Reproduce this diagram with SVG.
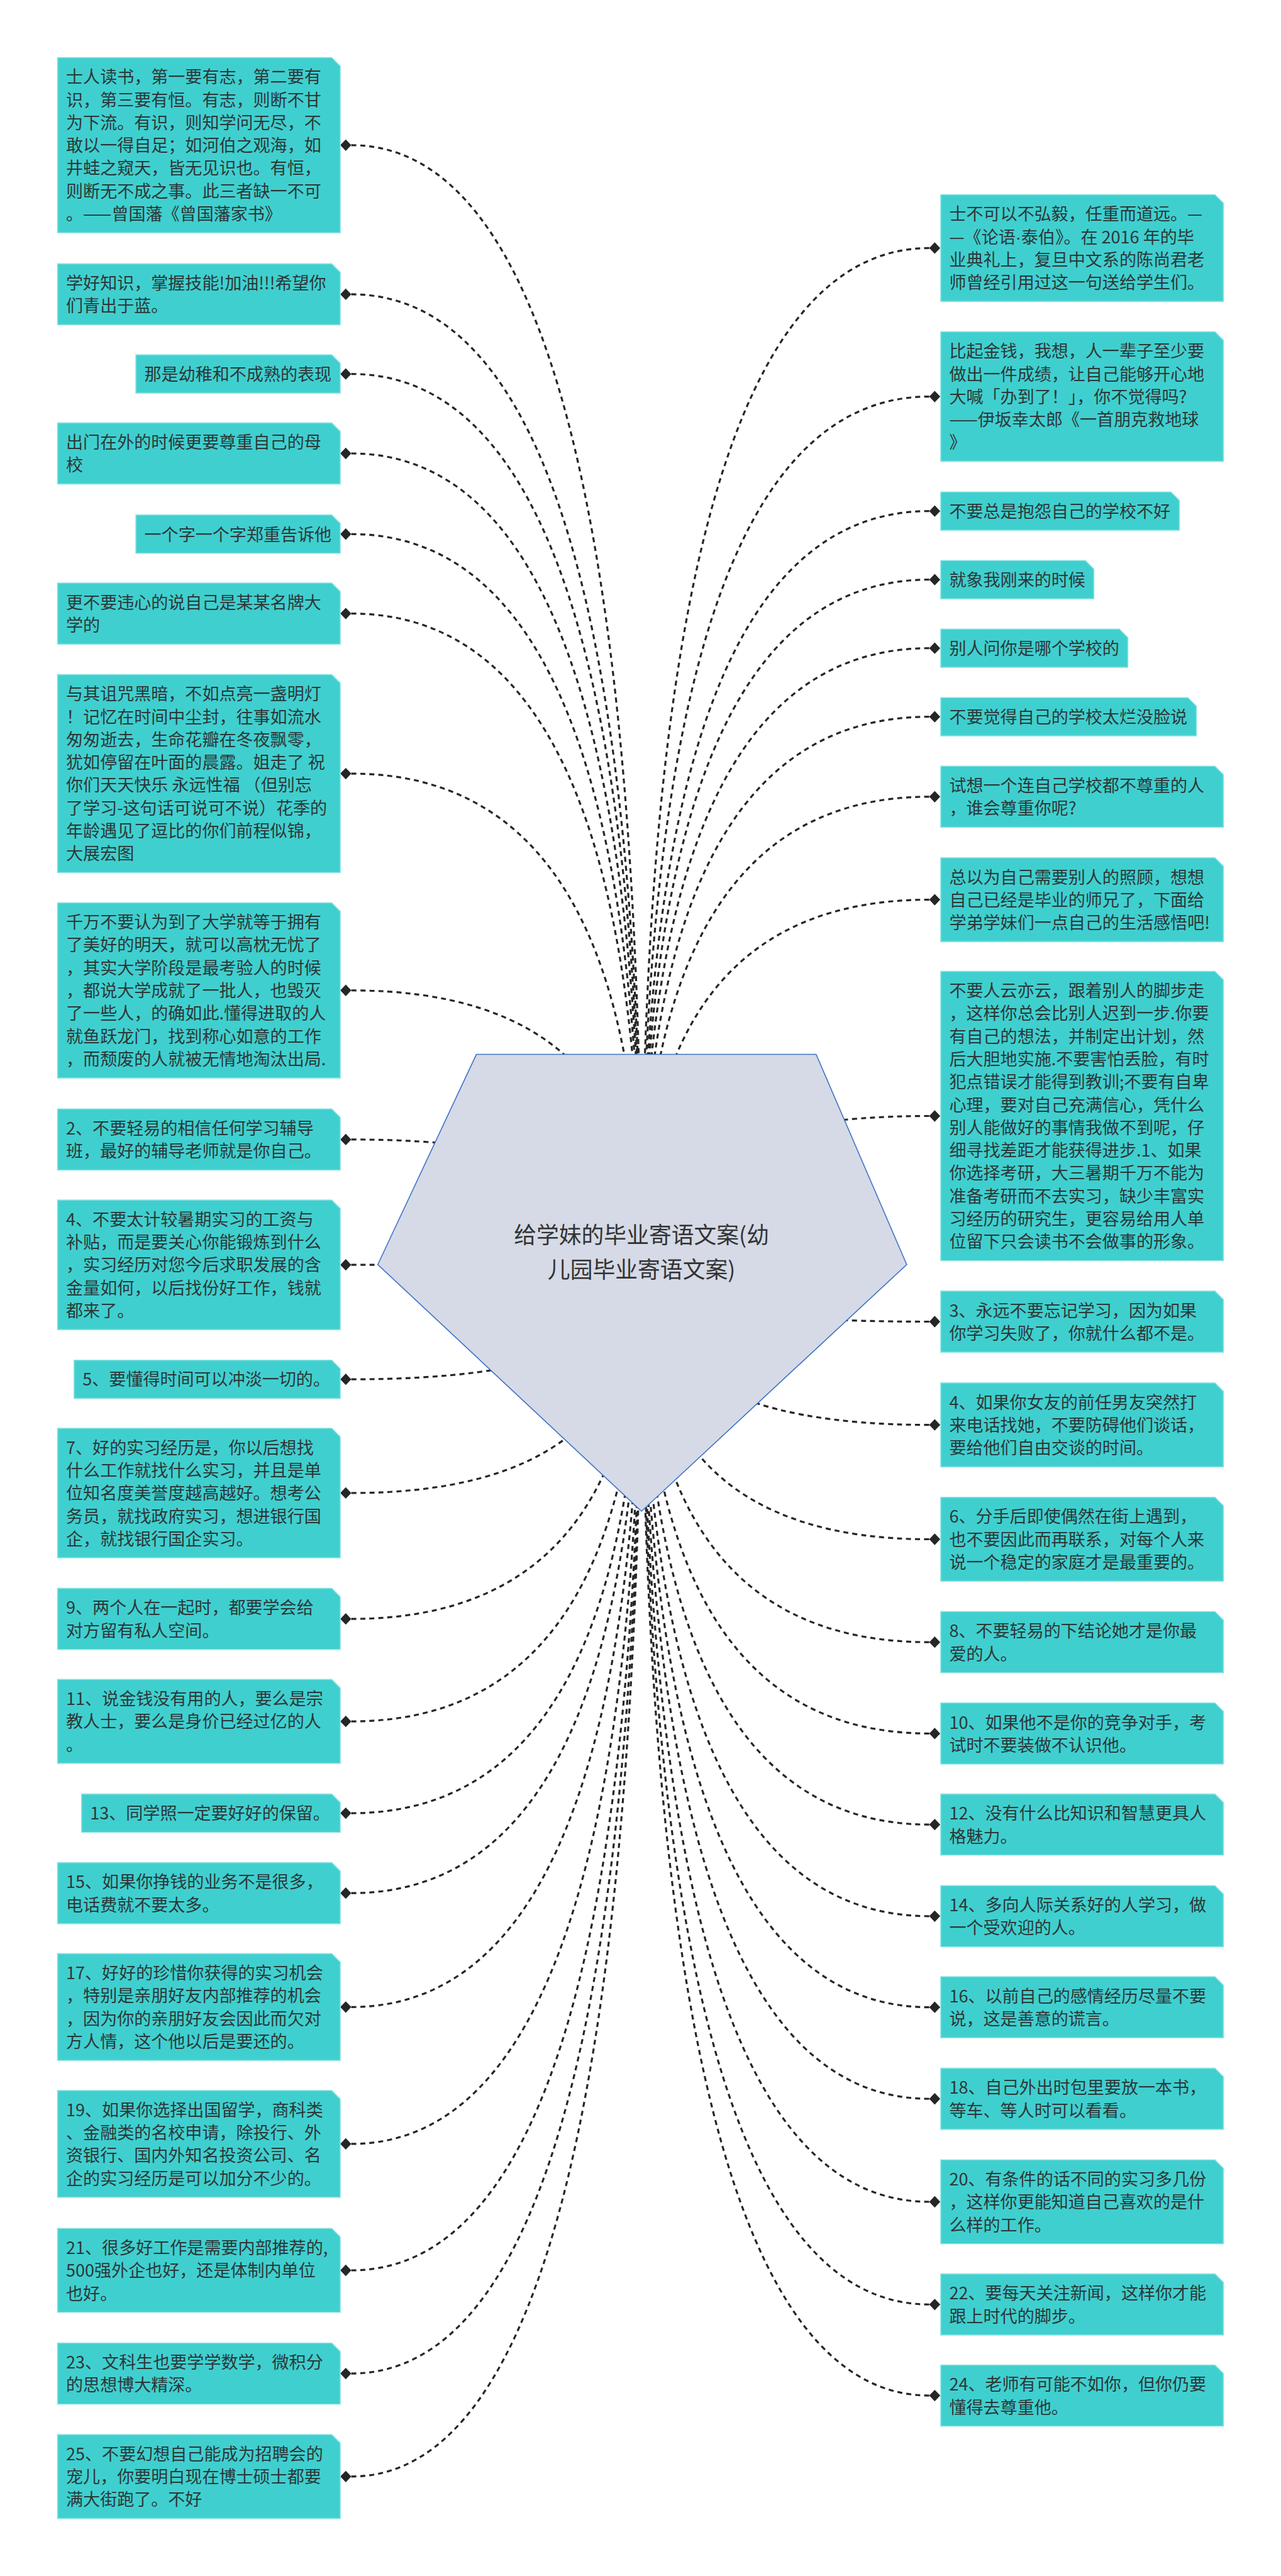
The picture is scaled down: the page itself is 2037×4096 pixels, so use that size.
<svg xmlns="http://www.w3.org/2000/svg" xmlns:xlink="http://www.w3.org/1999/xlink" width="2037" height="4096" viewBox="0 0 2037 4096">
<defs>
<style>
.box{fill:#40cfcf;stroke:#8fe3e3;stroke-width:2}
.t{font-family:"Noto Sans CJK SC","Noto Sans",sans-serif;font-size:34px;fill:#2b3838}
.ct{font-family:"Noto Sans CJK SC","Noto Sans",sans-serif;font-size:45px;fill:#333333;text-anchor:middle}
.conn path{fill:none;stroke:#262626;stroke-width:4;stroke-dasharray:10 8}
.dia{fill:#262626}
.lat{font-family:"Liberation Sans",sans-serif}
</style>
<path id="dm" class="dia" d="M-11,0 L0,-11.5 L11,0 L0,11.5 Z"/>
</defs>
<rect width="2037" height="4096" fill="#ffffff"/>
<g transform="scale(0.7957)">
<g id="connectors" class="conn">
<path d="M702,290.1 Q1282,290.1 1282,2527"/>
<path d="M702,588.1 Q1282,588.1 1282,2527"/>
<path d="M702,747.3 Q1282,747.3 1282,2527"/>
<path d="M702,906.1 Q1282,906.1 1282,2527"/>
<path d="M702,1067.3 Q1282,1067.3 1282,2527"/>
<path d="M702,1226.1 Q1282,1226.1 1282,2527"/>
<path d="M702,1545.9 Q1282,1545.9 1282,2527"/>
<path d="M702,1979.1 Q1282,1979.1 1282,2527"/>
<path d="M702,2277.1 Q1282,2277.1 1282,2527"/>
<path d="M702,2527.5 Q1282,2527.5 1282,2527"/>
<path d="M702,2756.3 Q1282,2756.3 1282,2527"/>
<path d="M702,2983.5 Q1282,2983.5 1282,2527"/>
<path d="M702,3235.1 Q1282,3235.1 1282,2527"/>
<path d="M702,3439.9 Q1282,3439.9 1282,2527"/>
<path d="M702,3623.3 Q1282,3623.3 1282,2527"/>
<path d="M702,3783.1 Q1282,3783.1 1282,2527"/>
<path d="M702,4010.7 Q1282,4010.7 1282,2527"/>
<path d="M702,4284.2 Q1282,4284.2 1282,2527"/>
<path d="M702,4536.9 Q1282,4536.9 1282,2527"/>
<path d="M702,4743.1 Q1282,4743.1 1282,2527"/>
<path d="M702,4948.9 Q1282,4948.9 1282,2527"/>
<path d="M1857,495.7 Q1282,495.7 1282,2527"/>
<path d="M1857,792.5 Q1282,792.5 1282,2527"/>
<path d="M1857,1021.3 Q1282,1021.3 1282,2527"/>
<path d="M1857,1158.3 Q1282,1158.3 1282,2527"/>
<path d="M1857,1295.3 Q1282,1295.3 1282,2527"/>
<path d="M1857,1432.3 Q1282,1432.3 1282,2527"/>
<path d="M1857,1592.1 Q1282,1592.1 1282,2527"/>
<path d="M1857,1797.9 Q1282,1797.9 1282,2527"/>
<path d="M1857,2230.1 Q1282,2230.1 1282,2527"/>
<path d="M1857,2641.1 Q1282,2641.1 1282,2527"/>
<path d="M1857,2847.4 Q1282,2847.4 1282,2527"/>
<path d="M1857,3075.9 Q1282,3075.9 1282,2527"/>
<path d="M1857,3281.6 Q1282,3281.6 1282,2527"/>
<path d="M1857,3464.1 Q1282,3464.1 1282,2527"/>
<path d="M1857,3646.1 Q1282,3646.1 1282,2527"/>
<path d="M1857,3829.1 Q1282,3829.1 1282,2527"/>
<path d="M1857,4011.1 Q1282,4011.1 1282,2527"/>
<path d="M1857,4194.1 Q1282,4194.1 1282,2527"/>
<path d="M1857,4399.9 Q1282,4399.9 1282,2527"/>
<path d="M1857,4605.1 Q1282,4605.1 1282,2527"/>
<path d="M1857,4787.1 Q1282,4787.1 1282,2527"/>
<use href="#dm" x="691" y="290.1"/><use href="#dm" x="691" y="588.1"/><use href="#dm" x="691" y="747.3"/><use href="#dm" x="691" y="906.1"/><use href="#dm" x="691" y="1067.3"/><use href="#dm" x="691" y="1226.1"/><use href="#dm" x="691" y="1545.9"/><use href="#dm" x="691" y="1979.1"/><use href="#dm" x="691" y="2277.1"/><use href="#dm" x="691" y="2527.5"/><use href="#dm" x="691" y="2756.3"/><use href="#dm" x="691" y="2983.5"/><use href="#dm" x="691" y="3235.1"/><use href="#dm" x="691" y="3439.9"/><use href="#dm" x="691" y="3623.3"/><use href="#dm" x="691" y="3783.1"/><use href="#dm" x="691" y="4010.7"/><use href="#dm" x="691" y="4284.2"/><use href="#dm" x="691" y="4536.9"/><use href="#dm" x="691" y="4743.1"/><use href="#dm" x="691" y="4948.9"/>
<use href="#dm" x="1868" y="495.7"/><use href="#dm" x="1868" y="792.5"/><use href="#dm" x="1868" y="1021.3"/><use href="#dm" x="1868" y="1158.3"/><use href="#dm" x="1868" y="1295.3"/><use href="#dm" x="1868" y="1432.3"/><use href="#dm" x="1868" y="1592.1"/><use href="#dm" x="1868" y="1797.9"/><use href="#dm" x="1868" y="2230.1"/><use href="#dm" x="1868" y="2641.1"/><use href="#dm" x="1868" y="2847.4"/><use href="#dm" x="1868" y="3075.9"/><use href="#dm" x="1868" y="3281.6"/><use href="#dm" x="1868" y="3464.1"/><use href="#dm" x="1868" y="3646.1"/><use href="#dm" x="1868" y="3829.1"/><use href="#dm" x="1868" y="4011.1"/><use href="#dm" x="1868" y="4194.1"/><use href="#dm" x="1868" y="4399.9"/><use href="#dm" x="1868" y="4605.1"/><use href="#dm" x="1868" y="4787.1"/>
</g>

<g id="center">
<path d="M952,2107 L1631,2107 L1812,2527 L1282,3020 L755,2527 Z" fill="#d5dae6" stroke="#3f72c4" stroke-width="2"/>
<text class="ct" x="1282" y="2485">给学妹的毕业寄语文案(幼</text>
<text class="ct" x="1282" y="2554">儿园毕业寄语文案)</text>
</g>

<g id="L1"><path class="box" d="M115,115 H663 L680,132 V465.2 H115 Z"/><text class="t" x="132" y="166.2"><tspan x="132">士人读书，第一要有志，第二要有</tspan><tspan x="132" dy="45.6">识，第三要有恒。有志，则断不甘</tspan><tspan x="132" dy="45.6">为下流。有识，则知学问无尽，不</tspan><tspan x="132" dy="45.6">敢以一得自足；如河伯之观海，如</tspan><tspan x="132" dy="45.6">井蛙之窥天，皆无见识也。有恒，</tspan><tspan x="132" dy="45.6">则断无不成之事。此三者缺一不可</tspan><tspan x="132" dy="45.6">。——曾国藩《曾国藩家书》</tspan></text></g>
<g id="L2"><path class="box" d="M115,527 H663 L680,544 V649.2 H115 Z"/><text class="t" x="132" y="578.2"><tspan x="132">学好知识，掌握技能!加油!!!希望你</tspan><tspan x="132" dy="45.6">们青出于蓝。</tspan></text></g>
<g id="L3"><path class="box" d="M271.5,709 H663 L680,726 V785.6 H271.5 Z"/><text class="t" x="288.5" y="760.2">那是幼稚和不成熟的表现</text></g>
<g id="L4"><path class="box" d="M115,845 H663 L680,862 V967.2 H115 Z"/><text class="t" x="132" y="896.2"><tspan x="132">出门在外的时候更要尊重自己的母</tspan><tspan x="132" dy="45.6">校</tspan></text></g>
<g id="L5"><path class="box" d="M271.5,1029 H663 L680,1046 V1105.6 H271.5 Z"/><text class="t" x="288.5" y="1080.2">一个字一个字郑重告诉他</text></g>
<g id="L6"><path class="box" d="M115,1165 H663 L680,1182 V1287.2 H115 Z"/><text class="t" x="132" y="1216.2"><tspan x="132">更不要违心的说自己是某某名牌大</tspan><tspan x="132" dy="45.6">学的</tspan></text></g>
<g id="L7"><path class="box" d="M115,1348 H663 L680,1365 V1743.8 H115 Z"/><text class="t" x="132" y="1399.2"><tspan x="132">与其诅咒黑暗，不如点亮一盏明灯</tspan><tspan x="132" dy="45.6">！记忆在时间中尘封，往事如流水</tspan><tspan x="132" dy="45.6">匆匆逝去，生命花瓣在冬夜飘零，</tspan><tspan x="132" dy="45.6">犹如停留在叶面的晨露。姐走了 祝</tspan><tspan x="132" dy="45.6">你们天天快乐 永远性福 （但别忘</tspan><tspan x="132" dy="45.6">了学习-这句话可说可不说）花季的</tspan><tspan x="132" dy="45.6">年龄遇见了逗比的你们前程似锦，</tspan><tspan x="132" dy="45.6">大展宏图</tspan></text></g>
<g id="L8"><path class="box" d="M115,1804 H663 L680,1821 V2154.2 H115 Z"/><text class="t" x="132" y="1855.2"><tspan x="132">千万不要认为到了大学就等于拥有</tspan><tspan x="132" dy="45.6">了美好的明天，就可以高枕无忧了</tspan><tspan x="132" dy="45.6">，其实大学阶段是最考验人的时候</tspan><tspan x="132" dy="45.6">，都说大学成就了一批人，也毁灭</tspan><tspan x="132" dy="45.6">了一些人，的确如此.懂得进取的人</tspan><tspan x="132" dy="45.6">就鱼跃龙门，找到称心如意的工作</tspan><tspan x="132" dy="45.6">，而颓废的人就被无情地淘汰出局.</tspan></text></g>
<g id="L9"><path class="box" d="M115,2216 H663 L680,2233 V2338.2 H115 Z"/><text class="t" x="132" y="2267.2"><tspan x="132">2、不要轻易的相信任何学习辅导</tspan><tspan x="132" dy="45.6">班，最好的辅导老师就是你自己。</tspan></text></g>
<g id="L10"><path class="box" d="M115,2398 H663 L680,2415 V2657 H115 Z"/><text class="t" x="132" y="2449.2"><tspan x="132">4、不要太计较暑期实习的工资与</tspan><tspan x="132" dy="45.6">补贴，而是要关心你能锻炼到什么</tspan><tspan x="132" dy="45.6">，实习经历对您今后求职发展的含</tspan><tspan x="132" dy="45.6">金量如何，以后找份好工作，钱就</tspan><tspan x="132" dy="45.6">都来了。</tspan></text></g>
<g id="L11"><path class="box" d="M148,2718 H663 L680,2735 V2794.6 H148 Z"/><text class="t" x="165" y="2769.2">5、要懂得时间可以冲淡一切的。</text></g>
<g id="L12"><path class="box" d="M115,2854 H663 L680,2871 V3113 H115 Z"/><text class="t" x="132" y="2905.2"><tspan x="132">7、好的实习经历是，你以后想找</tspan><tspan x="132" dy="45.6">什么工作就找什么实习，并且是单</tspan><tspan x="132" dy="45.6">位知名度美誉度越高越好。想考公</tspan><tspan x="132" dy="45.6">务员，就找政府实习，想进银行国</tspan><tspan x="132" dy="45.6">企，就找银行国企实习。</tspan></text></g>
<g id="L13"><path class="box" d="M115,3174 H663 L680,3191 V3296.2 H115 Z"/><text class="t" x="132" y="3225.2"><tspan x="132">9、两个人在一起时，都要学会给</tspan><tspan x="132" dy="45.6">对方留有私人空间。</tspan></text></g>
<g id="L14"><path class="box" d="M115,3356 H663 L680,3373 V3523.8 H115 Z"/><text class="t" x="132" y="3407.2"><tspan x="132">11、说金钱没有用的人，要么是宗</tspan><tspan x="132" dy="45.6">教人士，要么是身价已经过亿的人</tspan><tspan x="132" dy="45.6">。</tspan></text></g>
<g id="L15"><path class="box" d="M163,3585 H663 L680,3602 V3661.6 H163 Z"/><text class="t" x="180" y="3636.2">13、同学照一定要好好的保留。</text></g>
<g id="L16"><path class="box" d="M115,3722 H663 L680,3739 V3844.2 H115 Z"/><text class="t" x="132" y="3773.2"><tspan x="132">15、如果你挣钱的业务不是很多，</tspan><tspan x="132" dy="45.6">电话费就不要太多。</tspan></text></g>
<g id="L17"><path class="box" d="M115,3904 H663 L680,3921 V4117.4 H115 Z"/><text class="t" x="132" y="3955.2"><tspan x="132">17、好好的珍惜你获得的实习机会</tspan><tspan x="132" dy="45.6">，特别是亲朋好友内部推荐的机会</tspan><tspan x="132" dy="45.6">，因为你的亲朋好友会因此而欠对</tspan><tspan x="132" dy="45.6">方人情，这个他以后是要还的。</tspan></text></g>
<g id="L18"><path class="box" d="M115,4177.5 H663 L680,4194.5 V4390.9 H115 Z"/><text class="t" x="132" y="4228.7"><tspan x="132">19、如果你选择出国留学，商科类</tspan><tspan x="132" dy="45.6">、金融类的名校申请，除投行、外</tspan><tspan x="132" dy="45.6">资银行、国内外知名投资公司、名</tspan><tspan x="132" dy="45.6">企的实习经历是可以加分不少的。</tspan></text></g>
<g id="L19"><path class="box" d="M115,4453 H663 L680,4470 V4620.8 H115 Z"/><text class="t" x="132" y="4504.2"><tspan x="132">21、很多好工作是需要内部推荐的,</tspan><tspan x="132" dy="45.6">500强外企也好，还是体制内单位</tspan><tspan x="132" dy="45.6">也好。</tspan></text></g>
<g id="L20"><path class="box" d="M115,4682 H663 L680,4699 V4804.2 H115 Z"/><text class="t" x="132" y="4733.2"><tspan x="132">23、文科生也要学学数学，微积分</tspan><tspan x="132" dy="45.6">的思想博大精深。</tspan></text></g>
<g id="L21"><path class="box" d="M115,4865 H663 L680,4882 V5032.8 H115 Z"/><text class="t" x="132" y="4916.2"><tspan x="132">25、不要幻想自己能成为招聘会的</tspan><tspan x="132" dy="45.6">宠儿，你要明白现在博士硕士都要</tspan><tspan x="132" dy="45.6">满大街跑了。不好</tspan></text></g>

<g id="R1"><path class="box" d="M1880,389 H2428 L2445,406 V602.4 H1880 Z"/><text class="t" x="1897" y="440.2"><tspan x="1897">士不可以不弘毅，任重而道远。—</tspan><tspan x="1897" dy="45.6">—《论语<tspan class="lat">·</tspan>泰伯》。在 2016 年的毕</tspan><tspan x="1897" dy="45.6">业典礼上，复旦中文系的陈尚君老</tspan><tspan x="1897" dy="45.6">师曾经引用过这一句送给学生们。</tspan></text></g>
<g id="R2"><path class="box" d="M1880,663 H2428 L2445,680 V922 H1880 Z"/><text class="t" x="1897" y="714.2"><tspan x="1897">比起金钱，我想，人一辈子至少要</tspan><tspan x="1897" dy="45.6">做出一件成绩，让自己能够开心地</tspan><tspan x="1897" dy="45.6">大喊「办到了！」，你不觉得吗?</tspan><tspan x="1897" dy="45.6">——伊坂幸太郎《一首朋克救地球</tspan><tspan x="1897" dy="45.6">》</tspan></text></g>
<g id="R3"><path class="box" d="M1880,983 H2340 L2357,1000 V1059.6 H1880 Z"/><text class="t" x="1897" y="1034.2">不要总是抱怨自己的学校不好</text></g>
<g id="R4"><path class="box" d="M1880,1120 H2169 L2186,1137 V1196.6 H1880 Z"/><text class="t" x="1897" y="1171.2">就象我刚来的时候</text></g>
<g id="R5"><path class="box" d="M1880,1257 H2237 L2254,1274 V1333.6 H1880 Z"/><text class="t" x="1897" y="1308.2">别人问你是哪个学校的</text></g>
<g id="R6"><path class="box" d="M1880,1394 H2374 L2391,1411 V1470.6 H1880 Z"/><text class="t" x="1897" y="1445.2">不要觉得自己的学校太烂没脸说</text></g>
<g id="R7"><path class="box" d="M1880,1531 H2428 L2445,1548 V1653.2 H1880 Z"/><text class="t" x="1897" y="1582.2"><tspan x="1897">试想一个连自己学校都不尊重的人</tspan><tspan x="1897" dy="45.6">，谁会尊重你呢?</tspan></text></g>
<g id="R8"><path class="box" d="M1880,1714 H2428 L2445,1731 V1881.8 H1880 Z"/><text class="t" x="1897" y="1765.2"><tspan x="1897">总以为自己需要别人的照顾，想想</tspan><tspan x="1897" dy="45.6">自己已经是毕业的师兄了，下面给</tspan><tspan x="1897" dy="45.6">学弟学妹们一点自己的生活感悟吧!</tspan></text></g>
<g id="R9"><path class="box" d="M1880,1941 H2428 L2445,1958 V2519.2 H1880 Z"/><text class="t" x="1897" y="1992.2"><tspan x="1897">不要人云亦云，跟着别人的脚步走</tspan><tspan x="1897" dy="45.6">，这样你总会比别人迟到一步.你要</tspan><tspan x="1897" dy="45.6">有自己的想法，并制定出计划，然</tspan><tspan x="1897" dy="45.6">后大胆地实施.不要害怕丢脸，有时</tspan><tspan x="1897" dy="45.6">犯点错误才能得到教训;不要有自卑</tspan><tspan x="1897" dy="45.6">心理，要对自己充满信心，凭什么</tspan><tspan x="1897" dy="45.6">别人能做好的事情我做不到呢，仔</tspan><tspan x="1897" dy="45.6">细寻找差距才能获得进步.1、如果</tspan><tspan x="1897" dy="45.6">你选择考研，大三暑期千万不能为</tspan><tspan x="1897" dy="45.6">准备考研而不去实习，缺少丰富实</tspan><tspan x="1897" dy="45.6">习经历的研究生，更容易给用人单</tspan><tspan x="1897" dy="45.6">位留下只会读书不会做事的形象。</tspan></text></g>
<g id="R10"><path class="box" d="M1880,2580 H2428 L2445,2597 V2702.2 H1880 Z"/><text class="t" x="1897" y="2631.2"><tspan x="1897">3、永远不要忘记学习，因为如果</tspan><tspan x="1897" dy="45.6">你学习失败了，你就什么都不是。</tspan></text></g>
<g id="R11"><path class="box" d="M1880,2763.5 H2428 L2445,2780.5 V2931.3 H1880 Z"/><text class="t" x="1897" y="2814.7"><tspan x="1897">4、如果你女友的前任男友突然打</tspan><tspan x="1897" dy="45.6">来电话找她，不要防碍他们谈话，</tspan><tspan x="1897" dy="45.6">要给他们自由交谈的时间。</tspan></text></g>
<g id="R12"><path class="box" d="M1880,2992 H2428 L2445,3009 V3159.8 H1880 Z"/><text class="t" x="1897" y="3043.2"><tspan x="1897">6、分手后即使偶然在街上遇到，</tspan><tspan x="1897" dy="45.6">也不要因此而再联系，对每个人来</tspan><tspan x="1897" dy="45.6">说一个稳定的家庭才是最重要的。</tspan></text></g>
<g id="R13"><path class="box" d="M1880,3220.5 H2428 L2445,3237.5 V3342.7 H1880 Z"/><text class="t" x="1897" y="3271.7"><tspan x="1897">8、不要轻易的下结论她才是你最</tspan><tspan x="1897" dy="45.6">爱的人。</tspan></text></g>
<g id="R14"><path class="box" d="M1880,3403 H2428 L2445,3420 V3525.2 H1880 Z"/><text class="t" x="1897" y="3454.2"><tspan x="1897">10、如果他不是你的竞争对手，考</tspan><tspan x="1897" dy="45.6">试时不要装做不认识他。</tspan></text></g>
<g id="R15"><path class="box" d="M1880,3585 H2428 L2445,3602 V3707.2 H1880 Z"/><text class="t" x="1897" y="3636.2"><tspan x="1897">12、没有什么比知识和智慧更具人</tspan><tspan x="1897" dy="45.6">格魅力。</tspan></text></g>
<g id="R16"><path class="box" d="M1880,3768 H2428 L2445,3785 V3890.2 H1880 Z"/><text class="t" x="1897" y="3819.2"><tspan x="1897">14、多向人际关系好的人学习，做</tspan><tspan x="1897" dy="45.6">一个受欢迎的人。</tspan></text></g>
<g id="R17"><path class="box" d="M1880,3950 H2428 L2445,3967 V4072.2 H1880 Z"/><text class="t" x="1897" y="4001.2"><tspan x="1897">16、以前自己的感情经历尽量不要</tspan><tspan x="1897" dy="45.6">说，这是善意的谎言。</tspan></text></g>
<g id="R18"><path class="box" d="M1880,4133 H2428 L2445,4150 V4255.2 H1880 Z"/><text class="t" x="1897" y="4184.2"><tspan x="1897">18、自己外出时包里要放一本书，</tspan><tspan x="1897" dy="45.6">等车、等人时可以看看。</tspan></text></g>
<g id="R19"><path class="box" d="M1880,4316 H2428 L2445,4333 V4483.8 H1880 Z"/><text class="t" x="1897" y="4367.2"><tspan x="1897">20、有条件的话不同的实习多几份</tspan><tspan x="1897" dy="45.6">，这样你更能知道自己喜欢的是什</tspan><tspan x="1897" dy="45.6">么样的工作。</tspan></text></g>
<g id="R20"><path class="box" d="M1880,4544 H2428 L2445,4561 V4666.2 H1880 Z"/><text class="t" x="1897" y="4595.2"><tspan x="1897">22、要每天关注新闻，这样你才能</tspan><tspan x="1897" dy="45.6">跟上时代的脚步。</tspan></text></g>
<g id="R21"><path class="box" d="M1880,4726 H2428 L2445,4743 V4848.2 H1880 Z"/><text class="t" x="1897" y="4777.2"><tspan x="1897">24、老师有可能不如你，但你仍要</tspan><tspan x="1897" dy="45.6">懂得去尊重他。</tspan></text></g>
</g>
</svg>
